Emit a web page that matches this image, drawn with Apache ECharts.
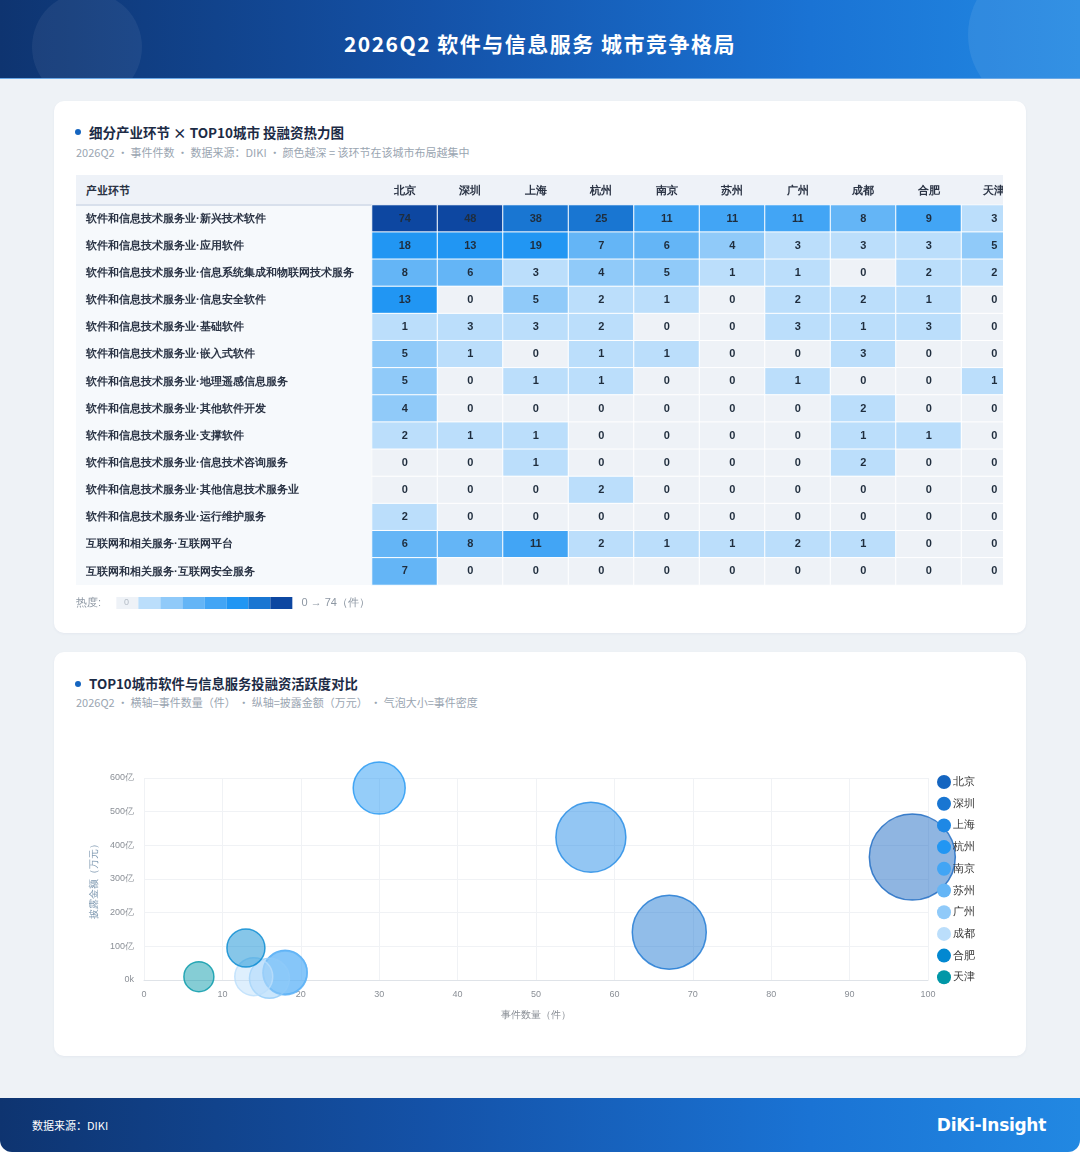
<!DOCTYPE html>
<html>
<head>
<meta charset="utf-8">
<script src="https://cdn.jsdelivr.net/npm/echarts@6/dist/echarts.min.js"></script>
<style>
    body {margin:0;width:1080px;height:1152px;background:#fff;font-family:"Noto Sans CJK SC","Noto Sans",sans-serif;overflow:hidden;}
    .page {position:absolute;left:0;top:0;width:1080px;height:1152px;background:#eef2f6;border-radius:0 0 12px 12px;overflow:hidden;}
    .head {position:absolute;left:0;top:0;width:1080px;height:78px;overflow:hidden;
        background:linear-gradient(90deg,#0e3470 0%,#1452a8 40%,#1a73d4 75%,#2288e2 100%);
        border-bottom:1px solid #6aa8e6;}
    .head .c1 {position:absolute;left:32px;top:-8px;width:110px;height:110px;border-radius:50%;background:rgba(255,255,255,0.06);}
    .head .c2 {position:absolute;left:968px;top:-40px;width:150px;height:150px;border-radius:50%;background:rgba(255,255,255,0.08);}
    .head h1 {position:absolute;left:0;top:0;width:1080px;margin:0;line-height:86px;text-align:center;color:#fff;font-size:21px;font-weight:700;letter-spacing:1.5px;}
    .card {position:absolute;left:54px;width:972px;background:#fff;border-radius:10px;box-shadow:0 1px 3px rgba(30,60,110,0.05);}
    .ttl {position:absolute;left:22px;font-weight:700;color:#1c2b45;}
    .ttl:before {content:"";position:absolute;left:-1px;top:7px;width:6px;height:6px;border-radius:50%;background:#1565c0;}
    .ttl span {padding-left:13px;}
    .sub {position:absolute;left:22px;font-size:11px;color:#9aa5b1;}
    .wrap {position:absolute;left:76px;top:175px;width:927px;height:450px;overflow:hidden;}
    .wrap .lc {position:absolute;left:0;top:0;width:295px;height:410px;background:#f6f9fc;border-right:1px solid #dfe6ef;}
    .wrap .hd {position:absolute;left:0;top:0;width:927px;height:29px;background:#eef2f8;border-bottom:2px solid #d8e0ec;}
    .wrap .hd b {position:absolute;left:10px;top:0;line-height:30px;font-size:11px;color:#2b3445;}
    #heat {position:absolute;left:0;top:0;width:951px;height:450px;}
    #bubble {position:absolute;left:54px;top:730px;width:972px;height:320px;}
    .foot {position:absolute;left:0;top:1098px;width:1080px;height:54px;
        background:linear-gradient(90deg,#0e3470 0%,#1452a8 40%,#1a73d4 75%,#2288e2 100%);}
    .foot .src {position:absolute;left:32px;top:0;line-height:54px;font-size:11px;color:#fff;}
    .foot .logo {position:absolute;right:34px;top:0;line-height:54px;font-size:17px;font-weight:700;color:#fff;font-family:"DejaVu Sans","Noto Sans",sans-serif;letter-spacing:-0.3px;}
</style>
</head>
<body>
<div class="page">
    <div class="head"><div class="c1"></div><div class="c2"></div><h1>2026Q2 软件与信息服务 城市竞争格局</h1></div>

    <div class="card" style="top:101px;height:532px;">
        <div class="ttl" style="top:21px;font-size:13.5px;"><span>细分产业环节 × TOP10城市 投融资热力图</span></div>
        <div class="sub" style="top:43px;">2026Q2 · 事件件数 · 数据来源：DIKI · 颜色越深 = 该环节在该城市布局越集中</div>
    </div>
    <div class="wrap">
        <div class="lc"></div>
        <div class="hd"><b>产业环节</b></div>
        <div id="heat"></div>
    </div>

    <div class="card" style="top:652px;height:404px;">
        <div class="ttl" style="top:22px;font-size:13.3px;"><span>TOP10城市软件与信息服务投融资活跃度对比</span></div>
        <div class="sub" style="top:42px;">2026Q2 · 横轴=事件数量（件） · 纵轴=披露金额（万元） · 气泡大小=事件密度</div>
    </div>
    <div id="bubble"></div>

    <div class="foot"><div class="src">数据来源：DIKI</div><div class="logo">DiKi-Insight</div></div>
</div>

<script>
    // 城市
    var cities = ['北京', '深圳', '上海', '杭州', '南京', '苏州', '广州', '成都', '合肥', '天津'];

    // 产业环节
    var segments = [
        '软件和信息技术服务业·新兴技术软件',
        '软件和信息技术服务业·应用软件',
        '软件和信息技术服务业·信息系统集成和物联网技术服务',
        '软件和信息技术服务业·信息安全软件',
        '软件和信息技术服务业·基础软件',
        '软件和信息技术服务业·嵌入式软件',
        '软件和信息技术服务业·地理遥感信息服务',
        '软件和信息技术服务业·其他软件开发',
        '软件和信息技术服务业·支撑软件',
        '软件和信息技术服务业·信息技术咨询服务',
        '软件和信息技术服务业·其他信息技术服务业',
        '软件和信息技术服务业·运行维护服务',
        '互联网和相关服务·互联网平台',
        '互联网和相关服务·互联网安全服务'
    ];

    // 事件件数 (行=环节, 列=城市)
    var heatValues = [
        [74, 48, 38, 25, 11, 11, 11, 8, 9, 3],
        [18, 13, 19, 7, 6, 4, 3, 3, 3, 5],
        [8, 6, 3, 4, 5, 1, 1, 0, 2, 2],
        [13, 0, 5, 2, 1, 0, 2, 2, 1, 0],
        [1, 3, 3, 2, 0, 0, 3, 1, 3, 0],
        [5, 1, 0, 1, 1, 0, 0, 3, 0, 0],
        [5, 0, 1, 1, 0, 0, 1, 0, 0, 1],
        [4, 0, 0, 0, 0, 0, 0, 2, 0, 0],
        [2, 1, 1, 0, 0, 0, 0, 1, 1, 0],
        [0, 0, 1, 0, 0, 0, 0, 2, 0, 0],
        [0, 0, 0, 2, 0, 0, 0, 0, 0, 0],
        [2, 0, 0, 0, 0, 0, 0, 0, 0, 0],
        [6, 8, 11, 2, 1, 1, 2, 1, 0, 0],
        [7, 0, 0, 0, 0, 0, 0, 0, 0, 0]
    ];

    // 热度分段
    var heatPieces = [
        {value: 0, color: '#eef2f7'},
        {min: 1, max: 3, color: '#bbdefb'},
        {min: 4, max: 5, color: '#90caf9'},
        {min: 6, max: 8, color: '#64b5f6'},
        {min: 9, max: 12, color: '#42a5f5'},
        {min: 13, max: 24, color: '#2196f3'},
        {min: 25, max: 47, color: '#1976d2'},
        {min: 48, max: 74, color: '#0d47a1'}
    ];

    // 气泡图: 事件数量(件), 披露金额(万元), 事件密度
    var eventCount = [98, 67, 57, 30, 18, 18, 16, 14, 13, 7];
    var amount = [3650000, 1420000, 4240000, 5700000, 230000, 210000, 50000, 100000, 950000, 100000];
    var density = [8.6, 7.4, 7.0, 5.2, 4.4, 4.4, 4.0, 3.8, 3.8, 3.0];
    var cityColors = ['#1565c0', '#1976d2', '#1e88e5', '#2196f3', '#42a5f5', '#64b5f6', '#90caf9', '#bbdefb', '#0288d1', '#0097a7'];

    function hexToRgba(hex, a) {
        var n = parseInt(hex.slice(1), 16);
        return 'rgba(' + (n >> 16) + ',' + ((n >> 8) & 255) + ',' + (n & 255) + ',' + a + ')';
    }

    /*
    图1 热力图
     */
    (function heatChart() {
        var data = [];
        heatValues.forEach(function (row, ri) {
            row.forEach(function (v, ci) {
                data.push([ci, ri, v]);
            });
        });
        var option = {
            animation: false,
            grid: {left: 296, right: 0, top: 30, height: 380},
            xAxis: {
                type: 'category',
                position: 'top',
                data: cities,
                axisLine: {show: false},
                axisTick: {show: false},
                splitLine: {show: false},
                axisLabel: {margin: 9, fontSize: 11, fontWeight: 'bold', color: '#2b3445'}
            },
            yAxis: {
                type: 'category',
                inverse: true,
                data: segments,
                axisLine: {show: false},
                axisTick: {show: false},
                splitLine: {show: false},
                axisLabel: {margin: 286, align: 'left', fontSize: 11.2, fontWeight: 'bold', color: '#2b3445'}
            },
            visualMap: {
                type: 'piecewise',
                seriesIndex: 0,
                orient: 'horizontal',
                left: 0,
                top: 422,
                padding: 0,
                itemWidth: 22,
                itemHeight: 12,
                itemGap: 0,
                itemSymbol: 'rect',
                selectedMode: false,
                hoverLink: false,
                text: ['   0 → 74（件）', '热度:     '],
                textStyle: {color: '#8d97a3', fontSize: 11},
                pieces: heatPieces
            },
            graphic: [{
                id: 'zero',
                type: 'text',
                z: 100,
                left: 48,
                top: 423,
                style: {text: '0', fill: '#b4bcc6', fontSize: 9}
            }],
            series: [{
                type: 'heatmap',
                data: data,
                itemStyle: {borderColor: '#fff', borderWidth: 1},
                label: {
                    show: true,
                    fontSize: 11,
                    fontWeight: 'bold',
                    color: '#1f2d3d',
                    formatter: function (p) { return p.value[2]; }
                }
            }]
        };
        echarts.init(document.getElementById('heat')).setOption(option);
    })();

    /*
    图2 气泡图
     */
    (function bubbleChart() {
        var series = [], legendData = [];
        cities.forEach(function (name, i) {
            series.push({
                name: name,
                type: 'scatter',
                clip: false,
                data: [[eventCount[i], amount[i], density[i]]],
                symbolSize: function (d) { return d[2] * 10; },
                itemStyle: {
                    color: hexToRgba(cityColors[i], 0.6),
                    borderColor: cityColors[i],
                    borderWidth: 1.5
                }
            });
            legendData.push({name: name, itemStyle: {color: cityColors[i], borderWidth: 0, opacity: 1}});
        });
        var option = {
            animation: false,
            color: cityColors,
            grid: {left: 90, right: 98, top: 48, bottom: 70},
            legend: {
                orient: 'vertical',
                left: 878,
                top: 40,
                icon: 'circle',
                itemWidth: 14,
                itemHeight: 14,
                itemGap: 7.7,
                textStyle: {color: '#333', fontSize: 11, padding: [0, 0, 0, -3]},
                data: legendData
            },
            xAxis: {
                type: 'value',
                min: 0,
                max: 100,
                interval: 10,
                name: '事件数量（件）',
                nameLocation: 'middle',
                nameGap: 30,
                nameTextStyle: {color: '#8a8f96', fontSize: 10},
                axisLine: {lineStyle: {color: '#dfe3e8'}},
                axisTick: {show: false},
                axisLabel: {color: '#8a8f96', fontSize: 9, margin: 10},
                splitLine: {lineStyle: {color: '#f0f2f5'}}
            },
            yAxis: {
                type: 'value',
                min: 0,
                max: 6000000,
                interval: 1000000,
                name: '披露金额（万元）',
                nameLocation: 'middle',
                nameGap: 44,
                nameTextStyle: {color: '#7e98b0', fontSize: 10},
                axisLine: {show: false},
                axisTick: {show: false},
                axisLabel: {
                    color: '#8a8f96',
                    fontSize: 9,
                    margin: 10,
                    formatter: function (v) { return v === 0 ? '0k' : (v / 10000) + '亿'; }
                },
                splitLine: {lineStyle: {color: '#f0f2f5'}}
            },
            series: series
        };
        echarts.init(document.getElementById('bubble')).setOption(option);
    })();
</script>
</body>
</html>
